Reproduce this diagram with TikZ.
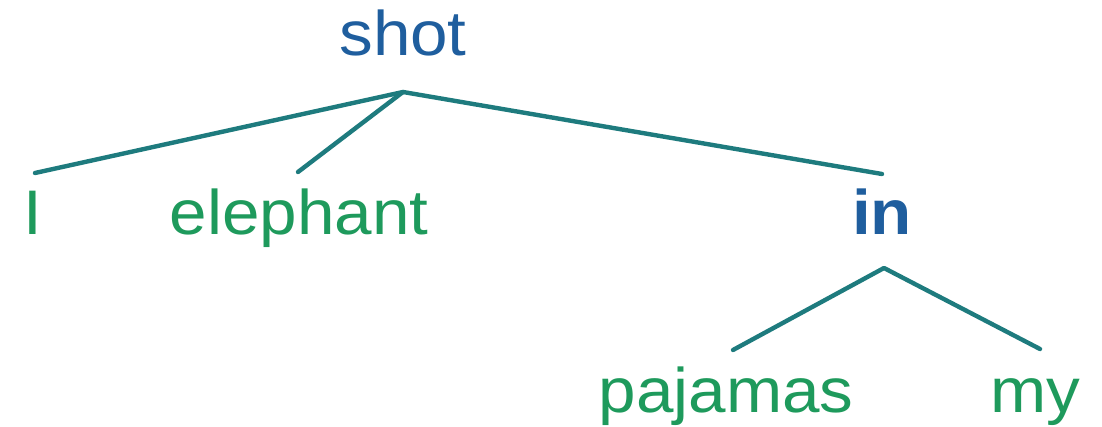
\documentclass[tikz,border=0pt]{standalone}
\usepackage{fontspec}
\setmainfont{Liberation Sans}
\definecolor{headblue}{HTML}{1F5E9E}
\definecolor{wordgreen}{HTML}{1E9A5C}
\definecolor{edgeteal}{HTML}{1E7B7E}
\begin{document}
\begin{tikzpicture}[x=1pt,y=-1pt,
  word/.style={inner sep=0pt, anchor=base, xscale=1.07, text=wordgreen, font=\fontsize{63}{70}\selectfont},
  head/.style={word, text=headblue},
  edge/.style={draw=edgeteal, line width=4.4pt, line cap=round, line join=round}]
\useasboundingbox (0,0) rectangle (1102,427);
\node[head] (shot) at (403,56) {shot};
\node[word] (I) at (33,235) {I};
\node[word] (elephant) at (299,235) {elephant};
\node[head, font=\fontsize{63}{70}\selectfont\bfseries] (in) at (882,235) {in};
\node[word] (pajamas) at (726,412) {pajamas};
\node[word] (my) at (1035,412) {my};
% edge attachment points
\coordinate (shotB) at ([yshift=-36pt]shot.base);
\coordinate (IT) at ([yshift=62pt,xshift=2pt]I.base);
\coordinate (elephantT) at ([yshift=63pt,xshift=-1pt]elephant.base);
\coordinate (inT) at (882,174);
\coordinate (inB) at ([yshift=-33pt,xshift=2pt]in.base);
\coordinate (pajamasT) at ([yshift=62pt,xshift=7pt]pajamas.base);
\coordinate (myT) at ([yshift=63pt,xshift=5pt]my.base);
\draw[edge] (IT) -- (shotB) -- (inT);
\draw[edge] (shotB) -- (elephantT);
\draw[edge] (pajamasT) -- (inB) -- (myT);
\end{tikzpicture}
\end{document}
